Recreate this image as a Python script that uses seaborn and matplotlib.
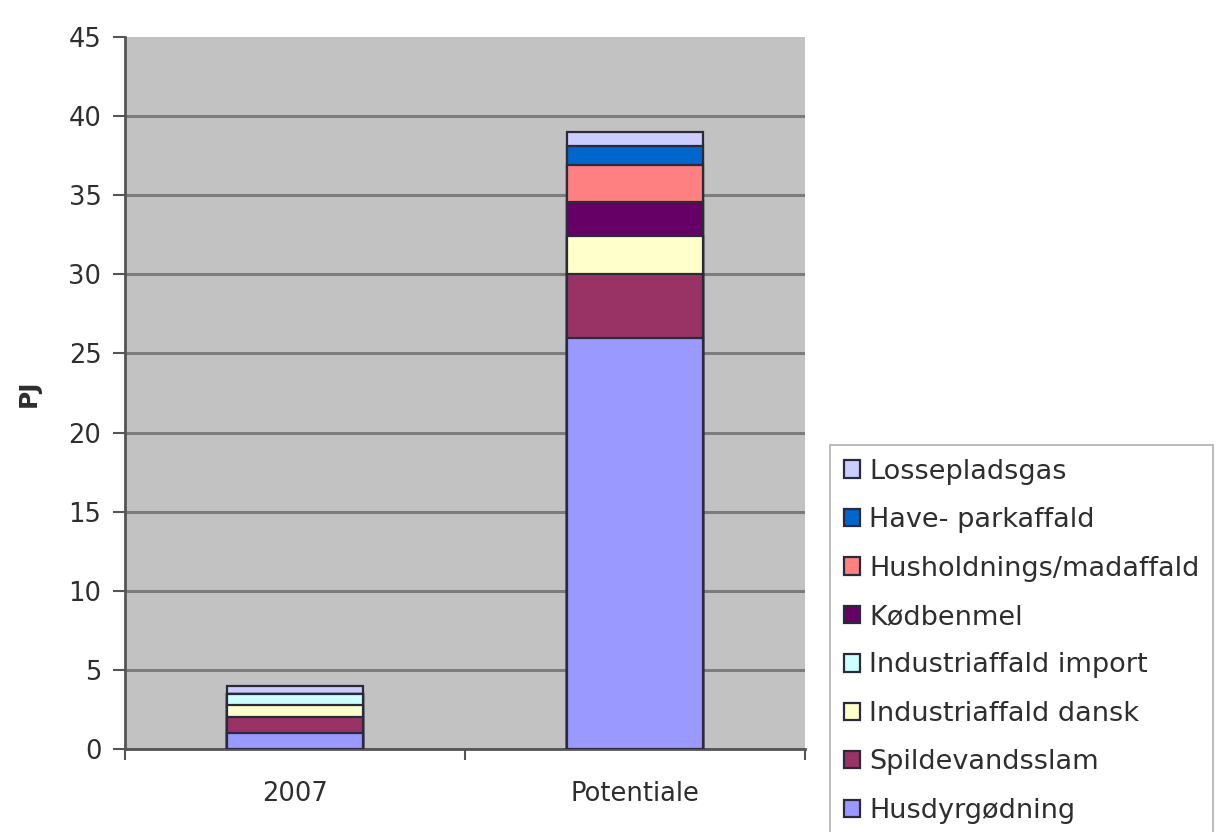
import matplotlib
matplotlib.use("Agg")
import matplotlib.pyplot as plt
from matplotlib.patches import Patch
from matplotlib.ticker import FixedLocator
import seaborn as sns
import pandas as pd

# Biogas sources (PJ), bottom of the stack first
categories = ["2007", "Potentiale"]
husdyrgodning = [1.0, 26.0]
spildevandsslam = [1.0, 4.0]
industri_dansk = [0.8, 2.4]
industri_import = [0.7, 0.0]
kodbenmel = [0.0, 2.2]
husholdning = [0.0, 2.3]
have_park = [0.0, 1.2]
lossepladsgas = [0.5, 0.9]

series_names = [
    "Husdyrgødning",
    "Spildevandsslam",
    "Industriaffald dansk",
    "Industriaffald import",
    "Kødbenmel",
    "Husholdnings/madaffald",
    "Have- parkaffald",
    "Lossepladsgas",
]
series_values = [
    husdyrgodning, spildevandsslam, industri_dansk, industri_import,
    kodbenmel, husholdning, have_park, lossepladsgas,
]
colors = ["#9999FF", "#993366", "#FFFFCC", "#CCFFFF",
          "#660066", "#FF8080", "#0066CC", "#CCCCFF"]
y_ticks = [0, 5, 10, 15, 20, 25, 30, 35, 40, 45]

sns.set_theme(style="white")
plt.rcParams["font.family"] = ["DejaVu Sans"]
text_color = "#2e2e2e"

fig = plt.figure(figsize=(12.18, 8.32), dpi=100)
ax = fig.add_axes([125 / 1218, 1 - 749 / 832, 680 / 1218, (749 - 37) / 832])
ax.set_facecolor("#C2C2C2")

# Stacked bars: draw cumulative totals from the top layer down
df = pd.DataFrame(dict(zip(series_names, series_values)), index=categories)
cum = df.cumsum(axis=1)
edge = "#2a2a3a"
for name, color in reversed(list(zip(series_names, colors))):
    sns.barplot(x=list(categories), y=cum[name].values, color=color,
                width=0.4, edgecolor=edge, linewidth=1.6, saturation=1,
                ax=ax, zorder=3)

ax.set_xlim(-0.5, 1.5)
ax.set_ylim(0, 45)
ax.set_yticks(y_ticks)
ax.yaxis.grid(True, color="#7c7c7c", linewidth=2.2, zorder=1)
ax.set_axisbelow(True)
for gl in ax.get_ygridlines()[-1:]:
    gl.set_visible(False)

ax.tick_params(axis="y", which="major", length=9, width=1.5, color="#555555",
               labelsize=18.5, labelcolor=text_color, pad=8, direction="out", left=True)
ax.tick_params(axis="x", which="major", length=0, labelsize=18.5,
               labelcolor=text_color, pad=23)
ax.xaxis.set_minor_locator(FixedLocator([-0.5, 0.5, 1.5]))
ax.tick_params(axis="x", which="minor", length=8, width=1.5, color="#555555",
               direction="out", bottom=True)

for side in ["top", "right"]:
    ax.spines[side].set_visible(False)
for side in ["left", "bottom"]:
    ax.spines[side].set_visible(True)
    ax.spines[side].set_color("#555555")
    ax.spines[side].set_linewidth(2)

ax.set_xlabel("")
ax.set_ylabel("PJ", fontsize=18, fontweight="bold", color=text_color, labelpad=20)

handles = [Patch(facecolor=c, edgecolor=edge, linewidth=1.6, label=n)
           for n, c in zip(series_names, colors)]
leg = fig.legend(handles=handles[::-1], loc="upper left",
                 bbox_to_anchor=(830 / 1218, 1 - 445 / 832),
                 bbox_transform=fig.transFigure, borderaxespad=0,
                 fontsize=19.5, frameon=True, fancybox=False,
                 handlelength=0.6, handleheight=0.6, handletextpad=0.35,
                 labelspacing=0.83, borderpad=0.5)
leg.get_frame().set_edgecolor("#999999")
leg.get_frame().set_linewidth(1.2)
leg.get_frame().set_facecolor("white")
for t in leg.get_texts():
    t.set_color(text_color)

fig.savefig("out.png", dpi=100)
